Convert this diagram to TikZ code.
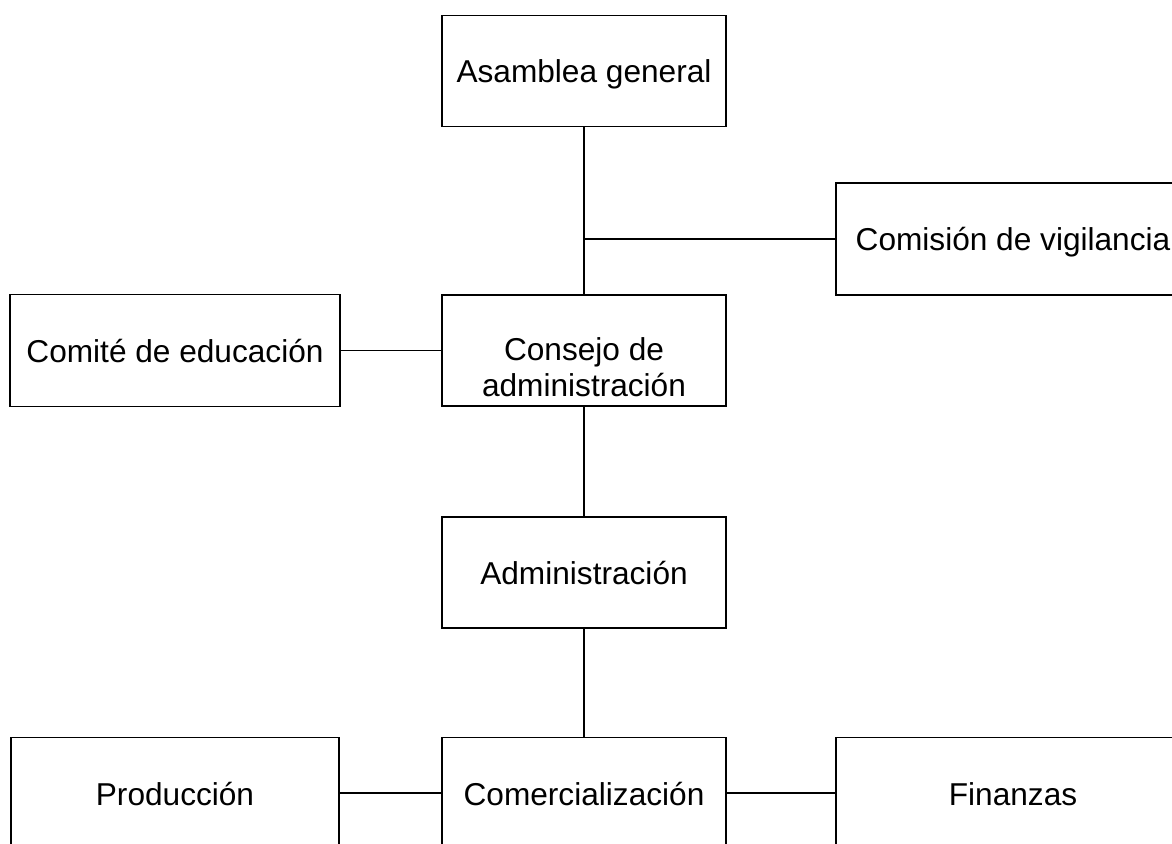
\documentclass[tikz,border=0pt]{standalone}
\usepackage{fontspec}
\setmainfont{Liberation Sans}
\usepackage{tikz}

\tikzset{
  orgbox/.style={draw, line width=0.9pt, minimum width=5.68cm, minimum height=2.22cm,
    inner sep=0pt, text depth=0pt, text height=#1},
  orgbox/.default=0.48cm,
  link/.style={line width=0.9pt}
}

\begin{document}
\begin{tikzpicture}[x=0.02cm,y=-0.02cm,font=\fontsize{18pt}{21pt}\selectfont]
  \useasboundingbox (0,0) rectangle (1172,844);
  \clip (0,0) rectangle (1172,844);
  % top level
  \node[orgbox] (asamblea) at (584,71) {Asamblea general};
  \node[orgbox,minimum width=7.08cm,minimum height=2.24cm] (comision) at (1013,239) {Comisión de vigilancia};
  % middle
  \node[orgbox,minimum width=6.6cm,minimum height=2.24cm] (comite) at (175,350.5) {Comité de educación};
  \node[orgbox={1.86cm},align=center] (consejo) at (584,350.5) {Consejo de\\administración};
  \node[orgbox] (admin) at (584,572.5) {Administración};
  % bottom row
  \node[orgbox,minimum width=6.56cm] (produccion) at (175,793) {Producción};
  \node[orgbox] (comercial) at (584,793) {Comercialización};
  \node[orgbox,minimum width=7.08cm] (finanzas) at (1013,793) {Finanzas};
  % links
  \foreach \a/\b in {asamblea/consejo, consejo/admin, admin/comercial}
    \draw[link] (\a.south) -- (\b.north);
  \coordinate (split) at (asamblea.south |- comision.west);
  \draw[link] (split) -- (comision.west);
  \draw[link] (comite.east) -- (consejo.west);
  \draw[link] (produccion.east) -- (comercial.west);
  \draw[link] (comercial.east) -- (finanzas.west);
\end{tikzpicture}
\end{document}
